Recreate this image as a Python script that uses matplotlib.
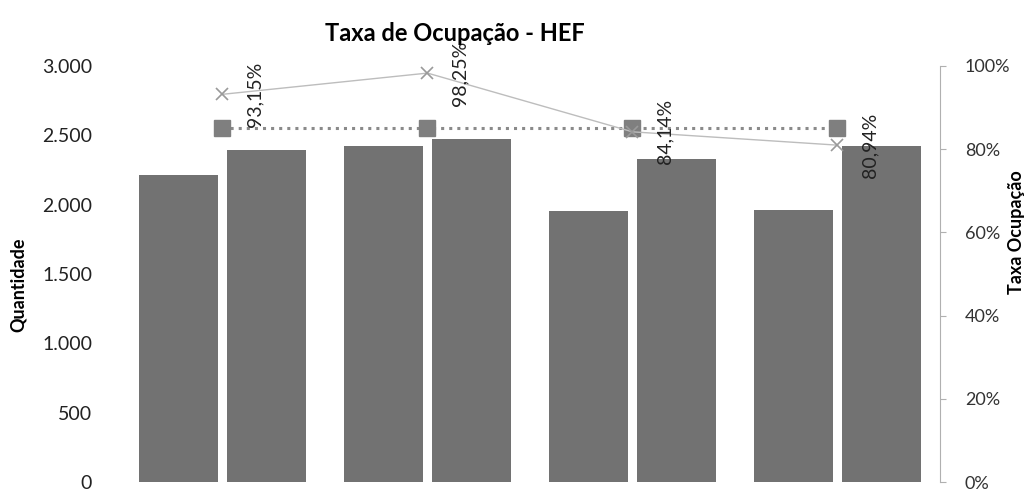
import matplotlib.pyplot as plt
import numpy as np

plt.rcParams['font.family'] = ['Lato', 'DejaVu Sans']

# four periods, two bars each (ocupados / disponiveis) plus occupancy rate and target
periodos = ['P1', 'P2', 'P3', 'P4']
ocupados = [2210, 2425, 1955, 1960]
disponiveis = [2390, 2470, 2325, 2420]
taxa = [0.9315, 0.9825, 0.8414, 0.8094]
taxa_labels = ['93,15%', '98,25%', '84,14%', '80,94%']
meta = [0.85, 0.85, 0.85, 0.85]

fig = plt.figure(figsize=(10.29, 4.91), dpi=100)
ax = fig.add_axes([0.1166, 0.018, 0.7969, 0.848])
x = np.arange(len(periodos))
w = 0.385
off = 0.2146

ax.bar(x - off, ocupados, w, color='#727272')
ax.bar(x + off, disponiveis, w, color='#727272')
ax.set_xlim(-0.5, 3.5)
ax.set_ylim(0, 3000)
ax.set_yticks([0, 500, 1000, 1500, 2000, 2500, 3000])
ax.set_yticklabels(['0', '500', '1.000', '1.500', '2.000', '2.500', '3.000'])
ax.set_xticks([])
for s in ax.spines.values():
    s.set_visible(False)
ax.tick_params(axis='y', length=0, labelsize=14, labelcolor='#222222', pad=20)
ax.set_ylabel('Quantidade', fontsize=13, fontweight='bold')
ax.yaxis.set_label_coords(-0.113, 0.475)

ax2 = ax.twinx()
ax2.set_ylim(0, 1)
ax2.set_yticks([0, 0.2, 0.4, 0.6, 0.8, 1.0])
ax2.set_yticklabels(['0%', '20%', '40%', '60%', '80%', '100%'])
for s in ['top', 'left', 'bottom']:
    ax2.spines[s].set_visible(False)
ax2.spines['right'].set_color('#b0b0b0')
ax2.spines['right'].set_linewidth(0.8)
ax2.tick_params(axis='y', length=4, color='#b0b0b0', labelsize=13, labelcolor='#333333', pad=14)
ax2.set_ylabel('Taxa Ocupação', fontsize=13, fontweight='bold')
ax2.yaxis.set_label_coords(1.083, 0.6)

ax2.plot(x, meta, color='#8a8a8a', linestyle=':', linewidth=2.2, marker='s',
         markersize=11, markerfacecolor='#7f7f7f', markeredgecolor='#7f7f7f')
ax2.plot(x, taxa, color='#bdbdbd', linewidth=1.0, marker='x', markersize=8,
         markeredgecolor='#9a9a9a', markeredgewidth=1.2)
for xi, yi, lab in zip(x, taxa, taxa_labels):
    ax2.annotate(lab, (xi, yi), xytext=(23, 0), textcoords='offset points',
                 rotation=90, ha='center', va='center', fontsize=14, color='#222222')

fig.suptitle('Taxa de Ocupação - HEF', x=0.442, y=0.955, fontsize=17, fontweight='bold')
fig.savefig('out.png', dpi=100)
